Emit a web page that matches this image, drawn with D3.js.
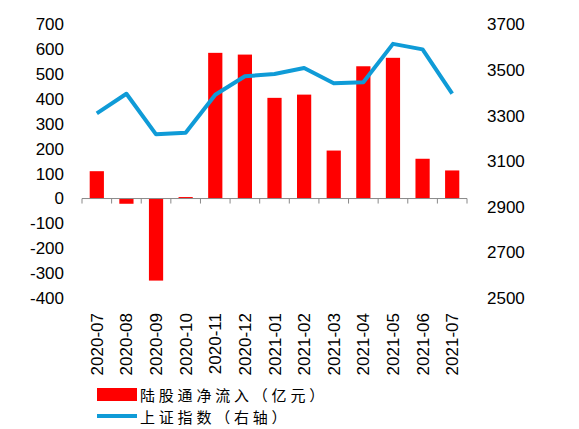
<!DOCTYPE html>
<html><head><meta charset="utf-8">
<script src="https://cdn.jsdelivr.net/npm/d3@7"></script>
<style>body{margin:0;background:#fff}svg{display:block}</style>
</head><body>
<script>
const categories = ["2020-07","2020-08","2020-09","2020-10","2020-11","2020-12","2021-01","2021-02","2021-03","2021-04","2021-05","2021-06","2021-07"];
const flowValues = [110,-21,-330,6,586,579,405,418,193,532,566,160,113];
const indexValues = [3310,3396,3218,3225,3392,3473,3483,3509,3442,3447,3615,3591,3397];
const leftTicks = [700,600,500,400,300,200,100,0,-100,-200,-300,-400];
const rightTicks = [3700,3500,3300,3100,2900,2700,2500];
const seriesNames = ["陆股通净流入（亿元）","上证指数（右轴）"];

const W=579,H=429;
const svg=d3.select("body").append("svg").attr("width",W).attr("height",H);
const font="'Liberation Sans', Arial, sans-serif";
const cjk="'Noto Sans CJK SC', sans-serif";

const x=d3.scaleBand().domain(categories).range([82,467]).paddingInner(0.52).paddingOuter(0.26);
const xb=d3.scaleBand().domain(categories).range([82,467]);
const yL=d3.scaleLinear().domain([-400,700]).range([298,24.5]);
const yR=d3.scaleLinear().domain([2500,3700]).range([298,24.5]);

// bars
svg.selectAll("rect.bar").data(categories).enter().append("rect")
  .attr("x",d=>x(d)).attr("width",x.bandwidth())
  .attr("y",(d,i)=>yL(Math.max(0,flowValues[i])))
  .attr("height",(d,i)=>Math.abs(yL(flowValues[i])-yL(0)))
  .attr("fill","#ff0000");

// x axis line and ticks
const ax=svg.append("g");
ax.append("line").attr("x1",82).attr("x2",467).attr("y1",yL(0)).attr("y2",yL(0)).attr("stroke","#898989").attr("stroke-width",1);
const bounds=categories.map(c=>xb(c)).concat([467]);
ax.selectAll("line.t").data(bounds).enter().append("line")
  .attr("x1",d=>d).attr("x2",d=>d).attr("y1",yL(0)).attr("y2",yL(0)+5)
  .attr("stroke","#898989").attr("stroke-width",1);

// line
const line=d3.line().x((d,i)=>xb(categories[i])+xb.bandwidth()/2).y(d=>yR(d));
svg.append("path").datum(indexValues).attr("d",line).attr("fill","none")
  .attr("stroke","#0f9bd7").attr("stroke-width",4).attr("stroke-linejoin","round");

// left axis labels
svg.selectAll("text.l").data(leftTicks).enter().append("text")
  .attr("x",64).attr("y",d=>yL(d)).attr("dy","0.35em").attr("text-anchor","end")
  .attr("font-family",font).attr("font-size",17).attr("fill","#000").text(d=>d);
// right axis labels
svg.selectAll("text.r").data(rightTicks).enter().append("text")
  .attr("x",487).attr("y",d=>yR(d)).attr("dy","0.35em").attr("text-anchor","start")
  .attr("font-family",font).attr("font-size",17).attr("fill","#000").text(d=>d);
// x labels
svg.selectAll("text.x").data(categories).enter().append("text")
  .attr("transform",d=>`translate(${xb(d)+xb.bandwidth()/2+6},313) rotate(-90)`)
  .attr("text-anchor","end")
  .attr("font-family",font).attr("font-size",17).attr("fill","#000").text(d=>d);

// legend
svg.append("rect").attr("x",97).attr("y",388).attr("width",40).attr("height",13).attr("fill","#ff0000");
svg.append("text").attr("x",140).attr("y",401).attr("font-family",cjk).attr("font-size",15).attr("letter-spacing",3.8).attr("fill","#000").text(seriesNames[0]);
svg.append("line").attr("x1",97).attr("x2",137).attr("y1",416).attr("y2",416).attr("stroke","#0f9bd7").attr("stroke-width",4);
svg.append("text").attr("x",140).attr("y",423).attr("font-family",cjk).attr("font-size",15).attr("letter-spacing",3.8).attr("fill","#000").text(seriesNames[1]);
</script>
</body></html>
